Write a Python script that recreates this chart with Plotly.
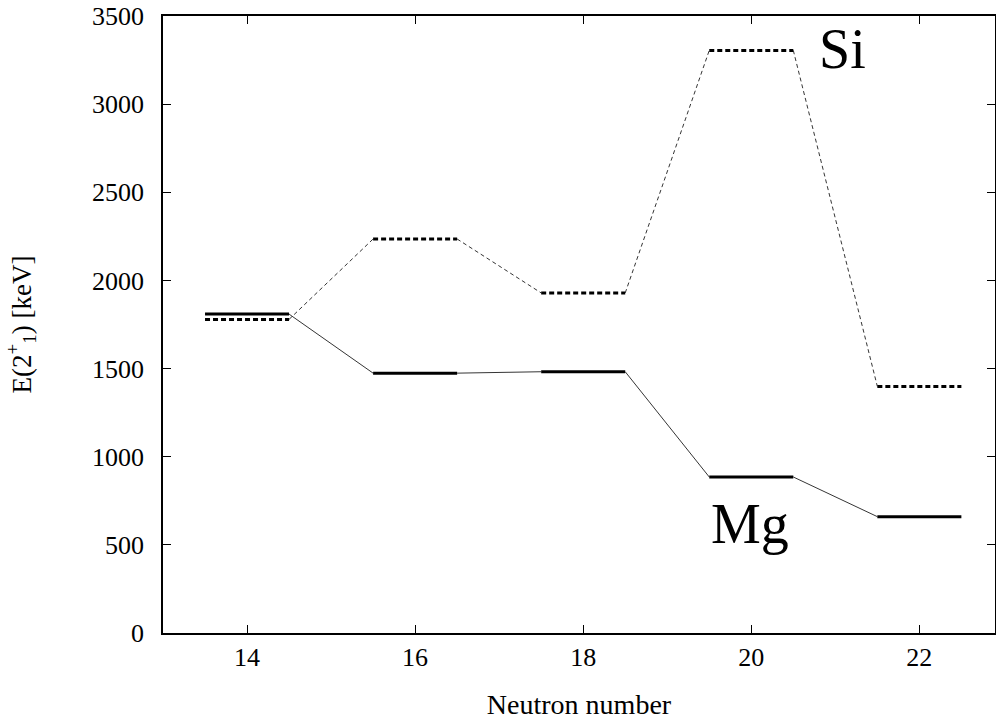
import plotly.graph_objects as go

neutrons = [14, 16, 18, 20, 22]
mg_energy = [1809, 1474, 1482, 885, 660]
si_energy = [1779, 2235, 1929, 3305, 1399]
x_ticks = [14, 16, 18, 20, 22]
y_ticks = [0, 500, 1000, 1500, 2000, 2500, 3000, 3500]

half = 0.5

def levels(ns, es):
    xs, ys = [], []
    for n, e in zip(ns, es):
        xs += [n - half, n + half, None]
        ys += [e, e, None]
    return xs, ys

def connectors(ns, es):
    xs, ys = [], []
    for i in range(len(ns) - 1):
        xs += [ns[i] + half, ns[i + 1] - half, None]
        ys += [es[i], es[i + 1], None]
    return xs, ys

fig = go.Figure()
cx, cy = connectors(neutrons, si_energy)
fig.add_trace(go.Scatter(x=cx, y=cy, mode="lines", line=dict(color="black", width=0.8, dash="4px,3px"), showlegend=False))
cx, cy = connectors(neutrons, mg_energy)
fig.add_trace(go.Scatter(x=cx, y=cy, mode="lines", line=dict(color="black", width=0.8), showlegend=False))
lx, ly = levels(neutrons, si_energy)
fig.add_trace(go.Scatter(x=lx, y=ly, mode="lines", line=dict(color="black", width=3, dash="5px,3px"), showlegend=False))
lx, ly = levels(neutrons, mg_energy)
fig.add_trace(go.Scatter(x=lx, y=ly, mode="lines", line=dict(color="black", width=3), showlegend=False))

font_family = "Liberation Serif"
fig.add_annotation(x=21.08, y=3314, text="Si", showarrow=False, font=dict(family=font_family, size=56, color="black"))
fig.add_annotation(x=19.98, y=616, text="Mg", showarrow=False, font=dict(family=font_family, size=56, color="black"))

axis_common = dict(showline=True, linecolor="black", linewidth=1.5, mirror="ticks", ticks="inside",
                   ticklen=8, tickcolor="black", tickwidth=1, showgrid=False, zeroline=False, automargin=False,
                   ticklabeloverflow="allow",
                   tickfont=dict(family=font_family, size=26, color="black"))
fig.update_xaxes(range=[13, 22.9], tickvals=x_ticks, title=dict(text="Neutron number", font=dict(family=font_family, size=28, color="black"), standoff=25), **axis_common)
fig.update_yaxes(range=[0, 3500], tickvals=y_ticks, ticklabelstandoff=12, title=dict(text="E(2<sup>+</sup><sub>1</sub>) [keV]", font=dict(family=font_family, size=27, color="black"), standoff=53), **axis_common)

fig.update_layout(width=996, height=720, margin=dict(l=163, r=1, t=16, b=87, autoexpand=False),
                  plot_bgcolor="white", paper_bgcolor="white")
# remove the default 8px body margin so the figure fills the window exactly
fig.write_html("out.html", config={"displayModeBar": False},
               post_script="document.body.style.margin='0';document.body.style.overflow='hidden';")
